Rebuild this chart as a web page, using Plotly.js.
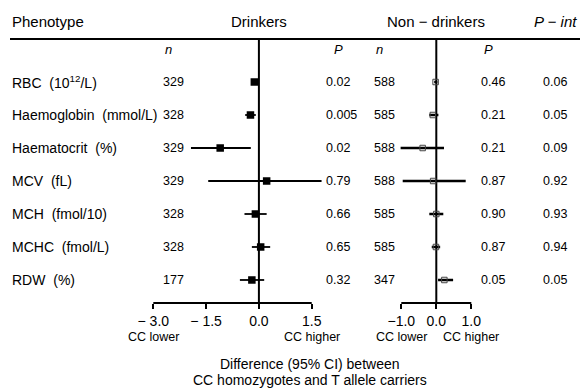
<!DOCTYPE html>
<html>
<head>
<meta charset="utf-8">
<script src="https://cdn.plot.ly/plotly-3.0.1.min.js"></script>
<style>html,body{margin:0;padding:0;background:#fff;}#chart{width:580px;height:391px;}</style>
</head>
<body>
<div id="chart"></div>
<script>
// ---- data ----
const phenotypes = ["RBC\u00A0 (10<sup>12</sup>/L)", "Haemoglobin\u00A0 (mmol/L)", "Haematocrit\u00A0 (%)", "MCV\u00A0 (fL)", "MCH\u00A0 (fmol/10)", "MCHC\u00A0 (fmol/L)", "RDW\u00A0 (%)"];
const drinkN   = [329, 328, 329, 329, 328, 328, 177];
const drinkEst = [-0.13, -0.24, -1.10, 0.22, -0.10, 0.05, -0.20];
const drinkLo  = [-0.22, -0.39, -1.93, -1.44, -0.41, -0.20, -0.54];
const drinkHi  = [-0.03, -0.09, -0.23, 1.78, 0.22, 0.32, 0.15];
const drinkP   = ["0.02", "0.005", "0.02", "0.79", "0.66", "0.65", "0.32"];
const nonN     = [588, 585, 588, 588, 585, 585, 347];
const nonEst   = [-0.02, -0.10, -0.39, -0.09, 0.00, -0.01, 0.23];
const nonLo    = [-0.06, -0.20, -1.02, -0.96, -0.20, -0.13, 0.05];
const nonHi    = [0.03, 0.06, 0.22, 0.84, 0.20, 0.11, 0.48];
const nonP     = ["0.46", "0.21", "0.21", "0.87", "0.90", "0.87", "0.05"];
const pInt     = ["0.06", "0.05", "0.09", "0.92", "0.93", "0.94", "0.05"];
const drinkTicks = [-3, -1.5, 0, 1.5];
const drinkTickText = ["\u2212 3.0", "\u2212 1.5", "0.0", "1.5"];
const nonTicks = [-1, 0, 1];
const nonTickText = ["\u22121.0", "0.0", "1.0"];

// ---- layout helpers ----
const W = 580, H = 391;
const FONT = "Liberation Sans, Arial, Helvetica, sans-serif";
const rows = phenotypes.map((_, i) => i);
const px = x => x / W;
const py = y => 1 - y / H;
const AXIS_POS = py(303);

const drinkTrace = {
  type: "scatter", mode: "markers", xaxis: "x", yaxis: "y",
  x: drinkEst, y: rows,
  marker: {symbol: "square", size: 7.5, color: "#000"},
  error_x: {type: "data", symmetric: false,
    array: drinkHi.map((h, i) => h - drinkEst[i]),
    arrayminus: drinkLo.map((l, i) => drinkEst[i] - l),
    width: 0, thickness: 1.8, color: "#000"},
  hoverinfo: "skip"
};
const nonTrace = {
  type: "scatter", mode: "markers", xaxis: "x2", yaxis: "y",
  x: nonEst, y: rows,
  marker: {symbol: "square-open", size: 5.5, color: "#444", line: {width: 1, color: "#444"}},
  error_x: {type: "data", symmetric: false,
    array: nonHi.map((h, i) => h - nonEst[i]),
    arrayminus: nonLo.map((l, i) => nonEst[i] - l),
    width: 0, thickness: 2.4, color: "#000"},
  hoverinfo: "skip"
};

const annotations = [];
function txt(text, x, y, o) {
  o = o || {};
  annotations.push({
    text: text, x: x, y: y,
    xref: o.xref || "paper", yref: o.yref || "paper",
    xanchor: o.xanchor || "left", yanchor: "middle",
    showarrow: false,
    font: {family: FONT, size: o.size || 13, color: o.color || "#000", style: o.style || "normal", weight: o.weight || "normal"}
  });
}
// headers
txt("Phenotype", px(10), py(22), {size: 15});
txt("Drinkers", 0, py(22), {xref: "x", xanchor: "center", size: 15});
txt("Non \u2212 drinkers", 0, py(22), {xref: "x2", xanchor: "center", size: 15});
txt("P \u2212 int", px(532), py(22), {size: 15, style: "italic"});
txt("n", px(163), py(50), {size: 13, style: "italic"});
txt("P", px(332), py(50), {size: 13, style: "italic"});
txt("n", px(374), py(50), {size: 13, style: "italic"});
txt("P", px(482), py(50), {size: 13, style: "italic"});
// rows
rows.forEach(i => {
  txt(phenotypes[i], px(10), i, {yref: "y", size: 14});
  txt(String(drinkN[i]), px(161), i, {yref: "y", size: 12.5});
  txt(drinkP[i], px(324), i, {yref: "y", size: 12.5});
  txt(String(nonN[i]), px(372), i, {yref: "y", size: 12.5});
  txt(nonP[i], px(479), i, {yref: "y", size: 12.5});
  txt(pInt[i], px(541), i, {yref: "y", size: 12.5});
});
// direction labels
txt("CC lower", -3, py(337), {xref: "x", xanchor: "center", size: 12.5});
txt("CC higher", 1.5, py(337), {xref: "x", xanchor: "center", size: 12.5});
txt("CC lower", -1, py(337), {xref: "x2", xanchor: "center", size: 12.5});
txt("CC higher", 1, py(337), {xref: "x2", xanchor: "center", size: 12.5});
// axis title
txt("Difference (95% CI) between", px(310), py(364), {xanchor: "center", size: 14});
txt("CC homozygotes and T allele carriers", px(310), py(380), {xanchor: "center", size: 14});

const shapes = [
  {type: "line", xref: "paper", yref: "paper", x0: px(10), x1: 1, y0: py(39), y1: py(39), line: {color: "#000", width: 2}},
  {type: "line", xref: "x", yref: "paper", x0: 0, x1: 0, y0: py(39), y1: AXIS_POS, line: {color: "#000", width: 2}, layer: "below"},
  {type: "line", xref: "x2", yref: "paper", x0: 0, x1: 0, y0: py(39), y1: AXIS_POS, line: {color: "#000", width: 2}, layer: "below"},
  {type: "line", xref: "x", yref: "paper", x0: drinkTicks[0], x1: drinkTicks[drinkTicks.length - 1], y0: AXIS_POS, y1: AXIS_POS, line: {color: "#000", width: 2}},
  {type: "line", xref: "x2", yref: "paper", x0: nonTicks[0], x1: nonTicks[nonTicks.length - 1], y0: AXIS_POS, y1: AXIS_POS, line: {color: "#000", width: 2}}
];

const axisCommon = {
  anchor: "free", position: AXIS_POS, showgrid: false, zeroline: false, showline: false,
  ticks: "outside", ticklen: 5, tickwidth: 2, tickcolor: "#000",
  tickfont: {family: FONT, size: 14, color: "#000"}, fixedrange: true
};

const layout = {
  width: W, height: H,
  margin: {l: 0, r: 0, t: 0, b: 0, pad: 0},
  paper_bgcolor: "#fff", plot_bgcolor: "rgba(0,0,0,0)",
  showlegend: false,
  xaxis: Object.assign({}, axisCommon, {domain: [0.25, 0.6], range: [-3.236, 2.531], tickvals: drinkTicks, ticktext: drinkTickText}),
  xaxis2: Object.assign({}, axisCommon, {domain: [0.66, 0.86], range: [-1.529, 1.786], tickvals: nonTicks, ticktext: nonTickText}),
  yaxis: {domain: [0, 1], range: [9.364, -2.485], visible: false, fixedrange: true},
  shapes: shapes,
  annotations: annotations
};

Plotly.newPlot("chart", [drinkTrace, nonTrace], layout, {displayModeBar: false, staticPlot: true});
</script>
</body>
</html>
